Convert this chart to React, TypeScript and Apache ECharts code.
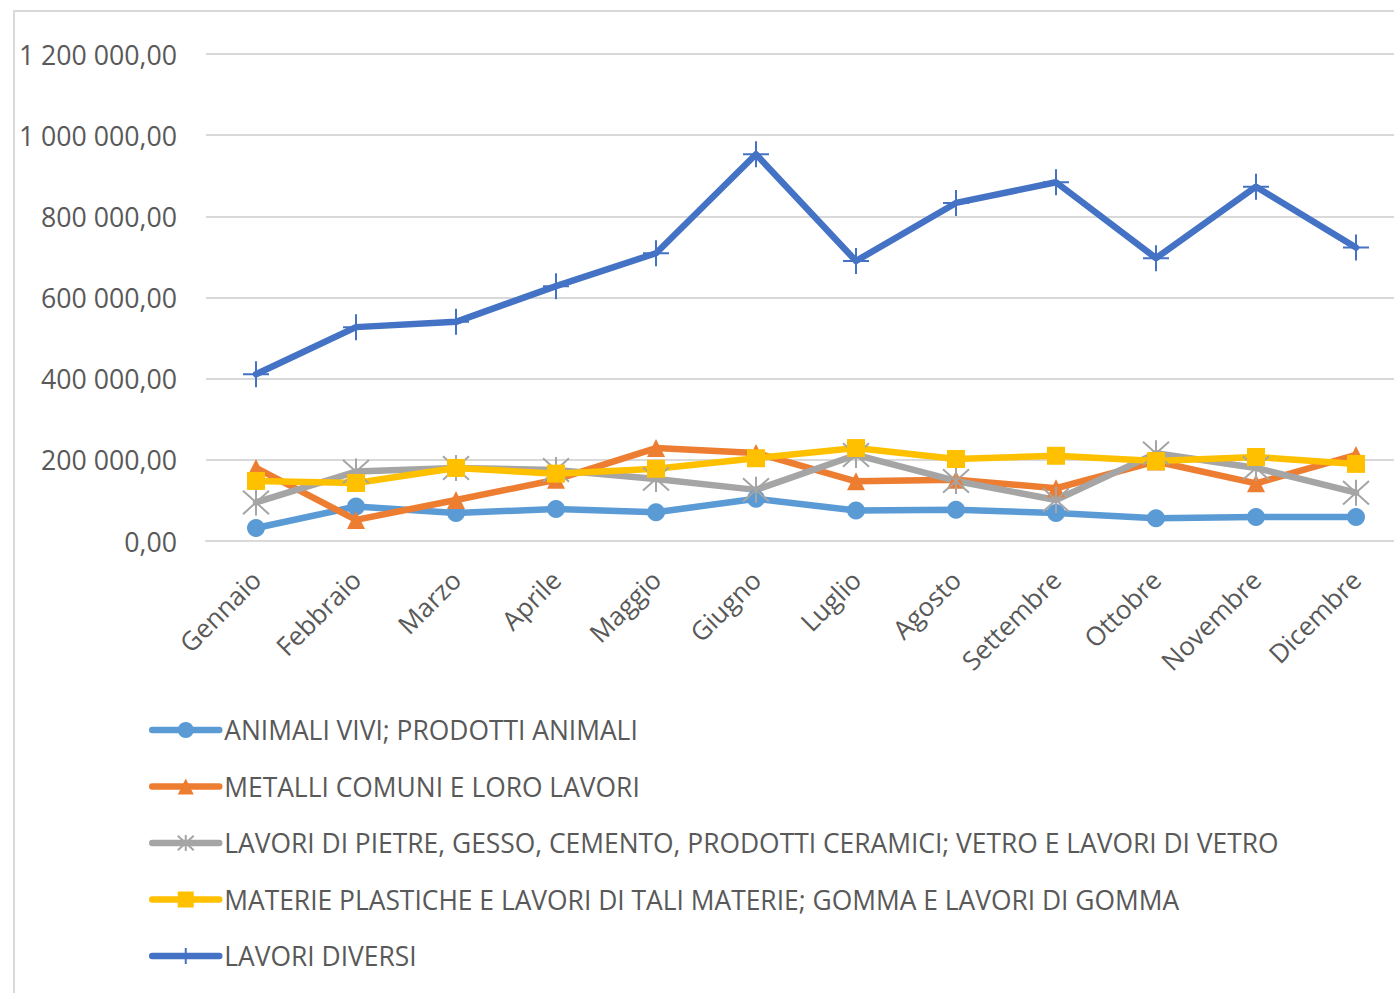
import React, { useEffect, useRef } from "react";
import * as echarts from "echarts";

const months = ["Gennaio", "Febbraio", "Marzo", "Aprile", "Maggio", "Giugno", "Luglio", "Agosto", "Settembre", "Ottobre", "Novembre", "Dicembre"];

const animali = [32000, 85000, 69000, 79000, 71000, 104000, 75000, 77000, 69000, 56000, 59000, 59000];
const metalli = [180000, 52000, 101000, 151000, 229000, 217000, 147000, 151000, 130000, 196000, 142000, 212000];
const pietre = [95000, 171000, 180000, 175000, 153000, 126000, 212000, 148000, 101000, 216000, 180000, 119000];
const plastiche = [148000, 143000, 180000, 166000, 178000, 204000, 229000, 202000, 210000, 197000, 207000, 190000];
const diversi = [411000, 527000, 540000, 628000, 709000, 953000, 690000, 833000, 884000, 697000, 873000, 723000];

const seriesNames = [
  "ANIMALI VIVI; PRODOTTI ANIMALI",
  "METALLI COMUNI E LORO LAVORI",
  "LAVORI DI PIETRE, GESSO, CEMENTO, PRODOTTI CERAMICI; VETRO E LAVORI DI VETRO",
  "MATERIE PLASTICHE E LAVORI DI TALI MATERIE; GOMMA E LAVORI DI GOMMA",
  "LAVORI DIVERSI",
];

const fmt = (v: number) => {
  const s = v.toFixed(2);
  const [i, d] = s.split(".");
  return i.replace(/\B(?=(\d{3})+(?!\d))/g, " ") + "," + d;
};

const ASTERISK = "path://M10,0L10,20M1,1L19,19M1,19L19,1";
const PLUS = "path://M10,0L10,20M0,10L20,10";

export default function App() {
  const ref = useRef<HTMLDivElement>(null);
  useEffect(() => {
    if (!ref.current) return;
    const chart = echarts.init(ref.current, undefined, { renderer: "svg" });
    const font = "'Open Sans', sans-serif";
    const mk = (name: string, data: number[], color: string, symbol: string, size: number, stroke: boolean) => ({
      name,
      type: "line",
      data,
      symbol,
      symbolSize: size,
      showAllSymbol: true,
      lineStyle: { color, width: 6.5, cap: "round", join: "round" },
      itemStyle: stroke
        ? { color, borderColor: color, borderWidth: 2 }
        : { color, borderWidth: 0 },
    });
    chart.setOption({
      animation: false,
      backgroundColor: "#ffffff",
      textStyle: { fontFamily: font },
      graphic: [
        {
          type: "rect",
          shape: { x: 14, y: 11, width: 1500, height: 1100 },
          style: { fill: "none", stroke: "#d9d9d9", lineWidth: 2 },
          silent: true,
        },
      ],
      grid: { left: 206, top: 54, width: 1200, height: 487, containLabel: false },
      xAxis: {
        type: "category",
        data: months,
        boundaryGap: true,
        axisLine: { show: true, lineStyle: { color: "#d9d9d9", width: 2 } },
        axisTick: { show: false },
        axisLabel: { rotate: 45, margin: 34, fontSize: 26, color: "#595959", fontFamily: font, interval: 0 },
      },
      yAxis: {
        type: "value",
        min: 0,
        max: 1200000,
        interval: 200000,
        axisLine: { show: false },
        axisTick: { show: false },
        splitLine: { lineStyle: { color: "#d9d9d9", width: 2 } },
        axisLabel: { formatter: fmt, margin: 29, fontSize: 26.7, color: "#595959", fontFamily: font },
      },
      legend: {
        orient: "vertical",
        left: 144,
        top: 712,
        itemWidth: 67,
        itemHeight: 20,
        itemGap: 30.5,
        lineStyle: { width: 6.5, cap: "round" },
        textStyle: { fontSize: 26.4, color: "#595959", fontFamily: font },
        data: seriesNames,
      },
      series: [
        mk(seriesNames[0], animali, "#5B9BD5", "circle", 18, false),
        mk(seriesNames[1], metalli, "#ED7D31", "triangle", 18, false),
        mk(seriesNames[2], pietre, "#A5A5A5", ASTERISK, 26, true),
        mk(seriesNames[3], plastiche, "#FFC000", "rect", 18, false),
        mk(seriesNames[4], diversi, "#4472C4", PLUS, 26, true),
      ],
    });
    return () => chart.dispose();
  }, []);
  return (
    <div style={{ position: "absolute", left: 0, top: 0, width: 1394, height: 993, overflow: "hidden" }}>
      <div ref={ref} style={{ width: 1406, height: 993 }} />
    </div>
  );
}
